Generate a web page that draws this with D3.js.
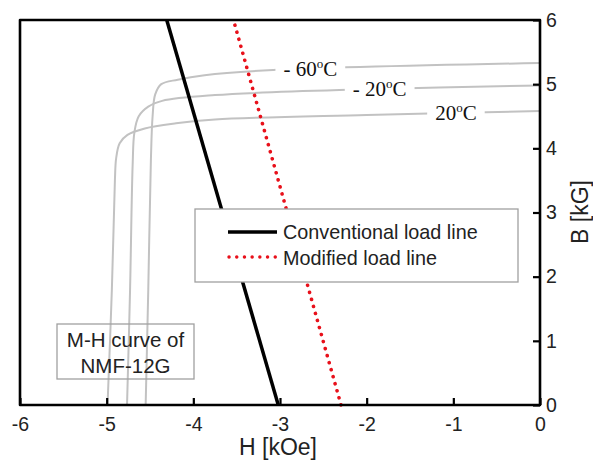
<!DOCTYPE html>
<html>
<head>
<meta charset="utf-8">
<script src="https://cdn.jsdelivr.net/npm/d3@7"></script>
<style>
  html, body { margin: 0; padding: 0; background: #fff; }
  svg { display: block; }
</style>
</head>
<body>
<svg id="chart" width="593" height="463"></svg>
<script>
// ---- data ----
const hTicks = [-6, -5, -4, -3, -2, -1, 0];
const bTicks = [0, 1, 2, 3, 4, 5, 6];

// M-H (B-H) curves of NMF-12G, [H kOe, B kG]
const curve20 = [[-4.99,0],[-4.94,1.8],[-4.905,3.5],[-4.89,3.85],[-4.85,4.08],[-4.76,4.21],[-4.56,4.31],[-4.2,4.39],[-3.75,4.45],[-2.0,4.52],[0,4.58]];
const curveM20 = [[-4.765,0],[-4.73,1.8],[-4.70,3.75],[-4.68,4.25],[-4.63,4.50],[-4.52,4.65],[-4.36,4.74],[-3.75,4.83],[-2.0,4.92],[0,4.98]];
const curveM60 = [[-4.55,0],[-4.52,1.8],[-4.49,3.8],[-4.47,4.5],[-4.44,4.84],[-4.37,5.0],[-4.18,5.07],[-3.87,5.14],[-3.08,5.22],[0,5.33]];
const curveNames = ["20", "- 20", "- 60"];
const labelH = [-0.97, -1.85, -2.65];

// load lines [H, B]
const conventionalLine = [[-4.307,6],[-3.02,0]];
const modifiedLine = [[-3.52,5.92],[-2.296,0]];

const legendLabels = ["Conventional load line", "Modified load line"];
const boxText = ["M-H curve of", "NMF-12G"];
const xTitle = "H [kOe]";
const yTitle = "B [kG]";

// ---- layout ----
const svg = d3.select("#chart");
const L = 20, R = 540, T = 20, B = 405;
const x = d3.scaleLinear().domain([-6, 0]).range([L, R]);
const y = d3.scaleLinear().domain([0, 6]).range([B, T]);
const sans = "'Liberation Sans', Arial, sans-serif";
const serif = "'Liberation Serif', 'Times New Roman', serif";

const line = d3.line().x(d => x(d[0])).y(d => y(d[1])).curve(d3.curveCatmullRom.alpha(0.5));
const straight = d3.line().x(d => x(d[0])).y(d => y(d[1]));

const curves = [curve20, curveM20, curveM60];
const gCurves = svg.append("g");
curves.forEach(c => {
  gCurves.append("path").attr("d", line(c)).attr("fill", "none")
    .attr("stroke", "#c2c2c2").attr("stroke-width", 2);
});

// temperature labels with white background
function interpB(c, h) {
  for (let i = 0; i < c.length - 1; i++) {
    if (h >= c[i][0] && h <= c[i+1][0]) {
      const t = (h - c[i][0]) / (c[i+1][0] - c[i][0]);
      return c[i][1] + t * (c[i+1][1] - c[i][1]);
    }
  }
  return c[c.length-1][1];
}
curves.forEach((c, i) => {
  const cx = x(labelH[i]), cy = y(interpB(c, labelH[i]));
  const g = svg.append("g");
  const bg = g.append("rect").attr("fill", "#fff");
  const t = g.append("text").attr("x", cx).attr("y", cy + 7)
    .attr("text-anchor", "middle").attr("font-family", serif)
    .attr("font-size", 21).attr("fill", "#111");
  t.append("tspan").text(curveNames[i]);
  t.append("tspan").attr("font-size", 13).attr("dy", -8).text("o");
  t.append("tspan").attr("dy", 8).text("C");
  const bb = t.node().getBBox();
  bg.attr("x", bb.x - 8).attr("y", cy - 4).attr("width", bb.width + 16).attr("height", 8);
});

// load lines
svg.append("path").attr("d", straight(conventionalLine)).attr("fill", "none")
  .attr("stroke", "#000").attr("stroke-width", 3.5);
svg.append("path").attr("d", straight(modifiedLine)).attr("fill", "none")
  .attr("stroke", "#e8101a").attr("stroke-width", 3.6)
  .attr("stroke-linecap", "round").attr("stroke-dasharray", "0.1 7.2");

// legend
const lg = svg.append("g");
lg.append("rect").attr("x", 195).attr("y", 209).attr("width", 323).attr("height", 73)
  .attr("fill", "#fff").attr("stroke", "#a0a0a0").attr("stroke-width", 1.3);
lg.append("line").attr("x1", 228).attr("x2", 277).attr("y1", 232).attr("y2", 232)
  .attr("stroke", "#000").attr("stroke-width", 3.5);
lg.append("line").attr("x1", 229).attr("x2", 277).attr("y1", 257).attr("y2", 257)
  .attr("stroke", "#e8101a").attr("stroke-width", 3.4)
  .attr("stroke-linecap", "round").attr("stroke-dasharray", "0.1 7.6");
legendLabels.forEach((s, i) => {
  lg.append("text").attr("x", 283).attr("y", 239 + i * 26).text(s)
    .attr("font-family", sans).attr("font-size", 19.8).attr("fill", "#222");
});

// M-H box
const bx = svg.append("g");
bx.append("rect").attr("x", 57).attr("y", 324).attr("width", 137).attr("height", 55)
  .attr("fill", "none").attr("stroke", "#a0a0a0").attr("stroke-width", 1.3);
boxText.forEach((s, i) => {
  bx.append("text").attr("x", 125.5).attr("y", 347 + i * 26).text(s)
    .attr("text-anchor", "middle").attr("font-family", sans).attr("font-size", 20.5).attr("fill", "#222");
});

// axes
const xAxis = svg.append("g").attr("transform", `translate(0,${B})`)
  .call(d3.axisBottom(x).tickValues(hTicks).tickSize(-7).tickPadding(12).tickFormat(d3.format("d")));
const yAxis = svg.append("g").attr("transform", `translate(${R},0)`)
  .call(d3.axisRight(y).tickValues(bTicks).tickSize(-7).tickPadding(6).tickFormat(d3.format("d")));
[xAxis, yAxis].forEach(a => {
  a.select(".domain").remove();
  a.selectAll(".tick line").attr("stroke", "#000").attr("stroke-width", 2.2);
  a.selectAll(".tick text").attr("font-family", sans).attr("font-size", 19.5).attr("fill", "#222");
});
xAxis.selectAll(".tick text").text(d => d < 0 ? "-" + Math.abs(d) : d);

// frame
svg.append("rect").attr("x", L).attr("y", T).attr("width", R - L).attr("height", B - T)
  .attr("fill", "none").attr("stroke", "#000").attr("stroke-width", 2.6).attr("stroke-linejoin", "round");

// titles
svg.append("text").attr("x", 278).attr("y", 455).attr("text-anchor", "middle")
  .attr("font-family", sans).attr("font-size", 23).attr("fill", "#222").text(xTitle);
svg.append("text").attr("transform", "translate(588,212) rotate(-90)").attr("text-anchor", "middle")
  .attr("font-family", sans).attr("font-size", 23).attr("fill", "#222").text(yTitle);
</script>
</body>
</html>
